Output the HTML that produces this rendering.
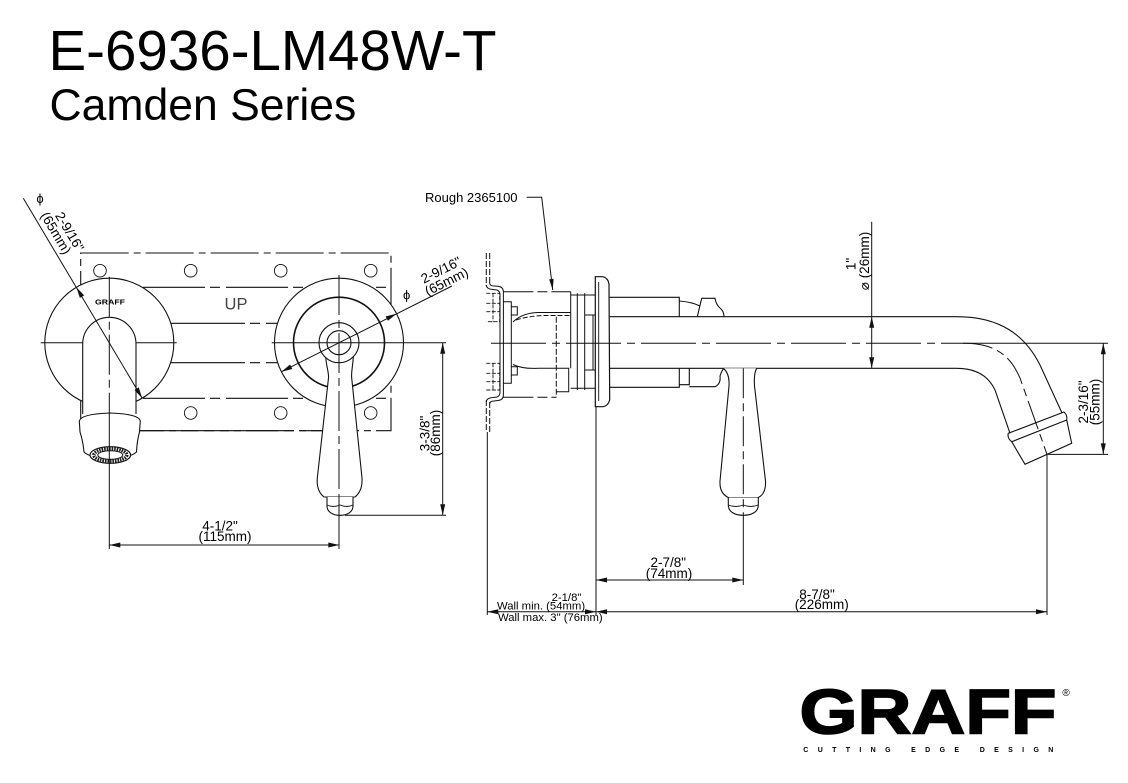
<!DOCTYPE html>
<html><head><meta charset="utf-8"><style>
html,body{margin:0;padding:0;background:#fff;}
svg{display:block;}
text{font-family:"Liberation Sans","DejaVu Sans",sans-serif;fill:#000;}
</style></head><body>
<svg width="1128" height="783" viewBox="0 0 1128 783" xmlns="http://www.w3.org/2000/svg">
<rect width="1128" height="783" fill="#fff"/>
<text x="48.5" y="70" font-size="56.5">E-6936-LM48W-T</text>
<text x="49.5" y="120" font-size="44.5">Camden Series</text>

<!-- ================= FRONT VIEW ================= -->
<g fill="none" stroke="#111" stroke-width="1.1">
  <path d="M80.7,253 H391 V430.7 H80.7 Z" stroke-dasharray="48 5 7 5"/>
  <g stroke-width="0.9">
    <circle cx="100" cy="270.7" r="6.3"/><circle cx="190.7" cy="270.7" r="6.3"/>
    <circle cx="280.7" cy="270.7" r="6.3"/><circle cx="370.7" cy="270.7" r="6.3"/>
    <circle cx="190.7" cy="413" r="6.3"/><circle cx="280.7" cy="413" r="6.3"/>
    <circle cx="370.7" cy="413" r="6.3"/>
  </g>
  <path d="M143,287.3 H391 M143,398.3 H391" stroke-dasharray="62 5 10 6"/>
  <path d="M170,323.3 H280 M170,362.7 H280" stroke-dasharray="75 5 10 6"/>
  <path d="M140,430.7 H330" stroke-dasharray="58 6 10 6"/>
</g>

<!-- left escutcheon -->
<circle cx="109.3" cy="342.7" r="64.5" fill="#fff" stroke="#111" stroke-width="1.1"/>
<text x="110" y="304.5" font-size="7" font-weight="bold" text-anchor="middle" textLength="30" lengthAdjust="spacingAndGlyphs">GRAFF</text>
<text x="236" y="309.5" font-size="16.5" text-anchor="middle" fill="#444" style="fill:#444">UP</text>
<path d="M40.7,342.7 H176.7" stroke="#111" stroke-width="1"/>
<!-- spout front -->
<path d="M82.7,414 V344 A26.65,26.65 0 0 1 136,344 V414" fill="#fff" stroke="#111" stroke-width="1.1"/>
<path d="M79.3,421 Q81,414 110,413 Q139,414 140.3,421 L139.5,432 Q137,441 136.5,452 Q130,458 110,458 Q90,458 84,452 Q83,441 80,432 Z" fill="#fff" stroke="#111" stroke-width="1.1"/>
<ellipse cx="110.3" cy="455" rx="20.3" ry="8.3" fill="#fff" stroke="#111" stroke-width="1.2"/>
<ellipse cx="110.3" cy="455" rx="16.5" ry="6.2" fill="none" stroke="#222" stroke-width="3.5" stroke-dasharray="1.6 0.9"/>
<ellipse cx="110.3" cy="455" rx="12.5" ry="4.3" fill="#fff" stroke="#111" stroke-width="1"/>
<path d="M109.3,276.7 V420" stroke="#111" stroke-width="1" stroke-dasharray="40 5 8 5"/>
<path d="M109.3,420 V549" stroke="#111" stroke-width="1"/>

<!-- left diameter dim -->
<path d="M23.3,198.3 L142.2,398.2" stroke="#111" stroke-width="1"/>
<polygon points="76.4,287.2 84.15,295.4 79.85,297.9" fill="#111"/>
<polygon points="142.2,398.2 138.75,387.4 134.45,390" fill="#111"/>
<text x="40" y="203" font-size="13" text-anchor="middle">ϕ</text>
<text transform="translate(69.7,231.7) rotate(59.3)" y="4.6" font-size="13.5" text-anchor="middle">2-9/16"</text>
<text transform="translate(56,233) rotate(59.3)" y="4.6" font-size="13.5" text-anchor="middle">(65mm)</text>

<!-- right escutcheon -->
<circle cx="339" cy="342.7" r="64.5" fill="#fff" stroke="#111" stroke-width="1.1"/>
<circle cx="339" cy="342.7" r="45.5" fill="none" stroke="#111" stroke-width="1.6"/>
<path d="M325.7,356 C326,366 329,372 328.5,378 L317.3,478 C316.5,487 319,493 324,497 L355,497 C360,493 362.5,487 362,478 L351.7,378 C351,372 353,366 353.3,356 Z" fill="#fff" stroke="#111" stroke-width="1.1"/>
<path d="M327,497 L327,506 C327,512 333,515.3 340,515.3 C347,515.3 353,512 353,506 L353,497" fill="#fff" stroke="#111" stroke-width="1.1"/>
<path d="M327,505 Q333.5,508 340,505 Q346.5,508 353,505" fill="none" stroke="#111" stroke-width="0.9"/>
<circle cx="339" cy="342.7" r="20" fill="#fff" stroke="#111" stroke-width="1.1"/>
<circle cx="339" cy="342.7" r="12" fill="none" stroke="#111" stroke-width="1.1"/>
<path d="M271.7,342.7 H446" stroke="#111" stroke-width="1"/>
<path d="M339,275 V497" stroke="#111" stroke-width="1" stroke-dasharray="40 5 8 5"/>
<path d="M339,497 V549" stroke="#111" stroke-width="1"/>

<!-- right diameter -->
<path d="M281.4,371.7 L452,286" stroke="#111" stroke-width="1"/>
<polygon points="281.4,371.7 292.3,369 290.1,364.5" fill="#111"/>
<polygon points="396.6,313.7 387.9,320.8 385.7,316.4" fill="#111"/>
<text x="406.7" y="299.5" font-size="13" text-anchor="middle">ϕ</text>
<text transform="translate(441,270) rotate(-26.7)" y="4.6" font-size="13.5" text-anchor="middle">2-9/16"</text>
<text transform="translate(446.5,281.5) rotate(-26.7)" y="4.6" font-size="13.5" text-anchor="middle">(65mm)</text>

<!-- 3-3/8 dim -->
<path d="M345,515.3 H446 M442.7,342.7 V515.3" stroke="#111" stroke-width="1"/>
<polygon points="442.7,342.7 440.2,353.7 445.2,353.7" fill="#111"/>
<polygon points="442.7,515.3 440.2,504.3 445.2,504.3" fill="#111"/>
<text transform="translate(425,433.5) rotate(-90)" y="4.6" font-size="13.5" text-anchor="middle">3-3/8"</text>
<text transform="translate(435.5,433) rotate(-90)" y="4.6" font-size="13.5" text-anchor="middle">(86mm)</text>

<!-- 4-1/2 dim -->
<path d="M109.3,545 H339.3" stroke="#111" stroke-width="1"/>
<polygon points="109.3,545 120.3,542.5 120.3,547.5" fill="#111"/>
<polygon points="339.3,545 328.3,542.5 328.3,547.5" fill="#111"/>
<text x="220" y="530.5" font-size="13.5" text-anchor="middle">4-1/2"</text>
<text x="225" y="541" font-size="13.5" text-anchor="middle">(115mm)</text>

<!-- ================= SIDE VIEW ================= -->
<text x="425" y="202" font-size="13">Rough 2365100</text>
<path d="M526.7,197.3 H541.7 L552.7,290" fill="none" stroke="#111" stroke-width="1"/>
<polygon points="552.7,290 553.6,278.8 549.2,279.4" fill="#111"/>

<g fill="none" stroke="#111" stroke-width="1">
  <!-- wall -->
  <path d="M486.3,253 V286 M489.7,253 V284 M486.3,400 V432 M489.7,402 V432" stroke-dasharray="6 2"/>
  <path d="M487.3,432 V615"/>
  <!-- bracket -->
  <path d="M486.3,285 Q486.3,289 493,289.5 L497,290 Q500,291 500,295 V392 Q500,396 497,397 L493,397.5 Q486.3,398 486.3,402"/>
  <path d="M489.7,283 Q489.7,286 494,286 L498,286.3 Q503.4,287 503.4,292 V395 Q503.4,400 498,400.5 L494,401 Q489.7,401 489.7,404"/>
  <!-- nuts -->
  <path d="M486.3,293.3 H499.7 V321.7 H486.3 M486.3,303.3 H499.7 M486.3,311.7 H499.7 M493,293.3 V321.7" stroke-dasharray="4 1.5" stroke-width="0.9"/>
  <path d="M486.3,363.3 H499.7 V390 H486.3 M486.3,373.3 H499.7 M486.3,381.7 H499.7 M493,363.3 V390" stroke-dasharray="4 1.5" stroke-width="0.9"/>
  <!-- body -->
  <path d="M503.4,291.7 H570.7" stroke-dasharray="30 4 10 4"/>
  <path d="M503.4,397.3 H556.3" stroke-dasharray="30 4 10 4"/>
  <path d="M570.7,291.7 V315"/>
  <path d="M503.4,301.7 H511.3 V383.3 H503.4"/>
  <path d="M511.3,306.7 H517.3 V315 H511.3 M511.3,366.7 H517.3 V375 H511.3"/>
  <path d="M513,322 Q522,313 538,312.5 H570.7"/>
  <path d="M516,320 Q528,316 545,315.5 H570.7" stroke-dasharray="5 2"/>
  <path d="M513,364.5 Q522,369 538,368.3 H556.3"/>
  <path d="M556.3,316.7 V397.3" stroke-dasharray="6 2"/>
  <path d="M556.3,368.3 H568.7 V391.7 H556.3"/>
  <!-- cartridge -->
  <path d="M570.7,295 H595 M570.7,388.3 H595 M570.7,315 V368.3 M577.3,293.3 V390 M584.7,293.3 V390 M584.7,315 H595 M584.7,370 H595 M593,315 V370"/>
  <!-- wall face ext -->
  <path d="M596,406.7 V615"/>
</g>
<!-- flange -->
<path d="M595.3,276.7 L603,276.7 Q608,278 609,284 L609.7,400 Q608,406 603,406.7 L595.3,406.7 Z" fill="#fff" stroke="#111" stroke-width="1.2"/>
<path d="M598.7,282 V401" stroke="#111" stroke-width="0.9"/>

<g fill="none" stroke="#111" stroke-width="1.1">
  <!-- sleeve -->
  <path d="M609.7,297.3 H679.3 V316.7 M609.7,387.3 H679.3 V368.3"/>
  <path d="M679.3,301 Q692,302 700,306"/>
  <path d="M697.3,316.7 L701.7,298.3 H715 Q716,305 721,309 Q724,312 724,316.7"/>
  <path d="M679.3,384.7 H689.3 V368.3 M689.3,386.7 H715 Q721,384 720,376 Q722,370 724,368.3"/>
  <!-- spout -->
  <path d="M609.7,316.7 H956.7 C1000,316.7 1025,335 1040,365 L1062,413"/>
  <path d="M609.7,368.3 H956.7 C975,368.3 988,375 995,390 L1010,433.3"/>
  <path d="M1008.3,433.3 L1064,412 Q1067.5,415 1066.7,420 L1011.7,441.7 Q1007,438 1008.3,433.3 Z"/>
  <path d="M1011.7,441.7 L1025,464.3 L1071.7,443.3 L1066.7,420"/>
</g>
<!-- side lever -->
<path d="M723.3,368.3 C728,372 729.5,378 729,386 L720,481 C719.5,490 723,495 728.3,497.5 L758.3,497.5 C763.5,495 766,490 765.5,481 L754.5,386 C754,378 754.5,372 756.7,368.3" fill="#fff" stroke="#111" stroke-width="1.1"/>
<path d="M728.3,497.5 L728.3,505 C728.3,512 735,515.3 743.3,515.3 C751.6,515.3 758.3,512 758.3,505 L758.3,497.5" fill="#fff" stroke="#111" stroke-width="1.1"/>
<path d="M728.3,505 Q735.8,508 743.3,505 Q750.8,508 758.3,505" fill="none" stroke="#111" stroke-width="0.9"/>

<g fill="none" stroke="#111" stroke-width="1">
  <!-- center lines -->
  <path d="M491,343.3 H963" stroke-dasharray="55 6 8 6"/>
  <path d="M963,343.3 C995,343.3 1010,355 1020,378 L1047,454.4" stroke-dasharray="30 5 8 5"/>
  <path d="M963,343.3 H1108"/>
  <path d="M743.3,368.3 V515" stroke-dasharray="30 5 8 5"/>
  <path d="M743.3,515 V585"/>
  <!-- extensions -->
  <path d="M1047,454.4 V615 M1047,454.4 H1108"/>
  <!-- dims -->
  <path d="M871.7,221.7 V368.3"/>
  <path d="M1103.3,343.3 V454.4"/>
  <path d="M596,580 H743.3"/>
  <path d="M487.3,611.7 H1047"/>
</g>
<polygon points="871.7,316.7 869.2,327.7 874.2,327.7" fill="#111"/>
<polygon points="871.7,368.3 869.2,357.3 874.2,357.3" fill="#111"/>
<polygon points="1103.3,343.3 1100.8,354.3 1105.8,354.3" fill="#111"/>
<polygon points="1103.3,454.4 1100.8,443.4 1105.8,443.4" fill="#111"/>
<polygon points="596,580 607,577.5 607,582.5" fill="#111"/>
<polygon points="743.3,580 732.3,577.5 732.3,582.5" fill="#111"/>
<polygon points="487.3,611.7 498.3,609.2 498.3,614.2" fill="#111"/>
<polygon points="596,611.7 585,609.2 585,614.2" fill="#111"/>
<polygon points="596,611.7 607,609.2 607,614.2" fill="#111"/>
<polygon points="1047,611.7 1036,609.2 1036,614.2" fill="#111"/>

<text transform="translate(851,264) rotate(-90)" y="4.6" font-size="13.5" text-anchor="middle">1"</text>
<text transform="translate(864.5,261) rotate(-90)" y="4.6" font-size="13.5" text-anchor="middle">⌀ (26mm)</text>
<text transform="translate(1083.5,402) rotate(-90)" y="4.6" font-size="13.5" text-anchor="middle">2-3/16"</text>
<text transform="translate(1095,402) rotate(-90)" y="4.6" font-size="13.5" text-anchor="middle">(55mm)</text>
<text x="668.3" y="567" font-size="13.5" text-anchor="middle">2-7/8"</text>
<text x="669" y="578" font-size="13.5" text-anchor="middle">(74mm)</text>
<text x="817" y="599" font-size="13.5" text-anchor="middle">8-7/8"</text>
<text x="821.7" y="609" font-size="13.5" text-anchor="middle">(226mm)</text>
<text x="566.5" y="601" font-size="11.3" text-anchor="middle">2-1/8"</text>
<text x="497" y="609.5" font-size="11.3">Wall min. (54mm)</text>
<text x="498" y="621" font-size="11.3">Wall max. 3" (76mm)</text>

<!-- ================= LOGO ================= -->
<text x="799.5" y="733.3" font-size="62.8" font-weight="bold" textLength="257" lengthAdjust="spacingAndGlyphs" stroke="#000" stroke-width="1.6">GRAFF</text>
<text x="1066" y="696" font-size="10" text-anchor="middle">®</text>
<text x="803.3" y="752" font-size="7" font-weight="bold" textLength="250" lengthAdjust="spacing">CUTTING EDGE DESIGN</text>
</svg>
</body></html>
